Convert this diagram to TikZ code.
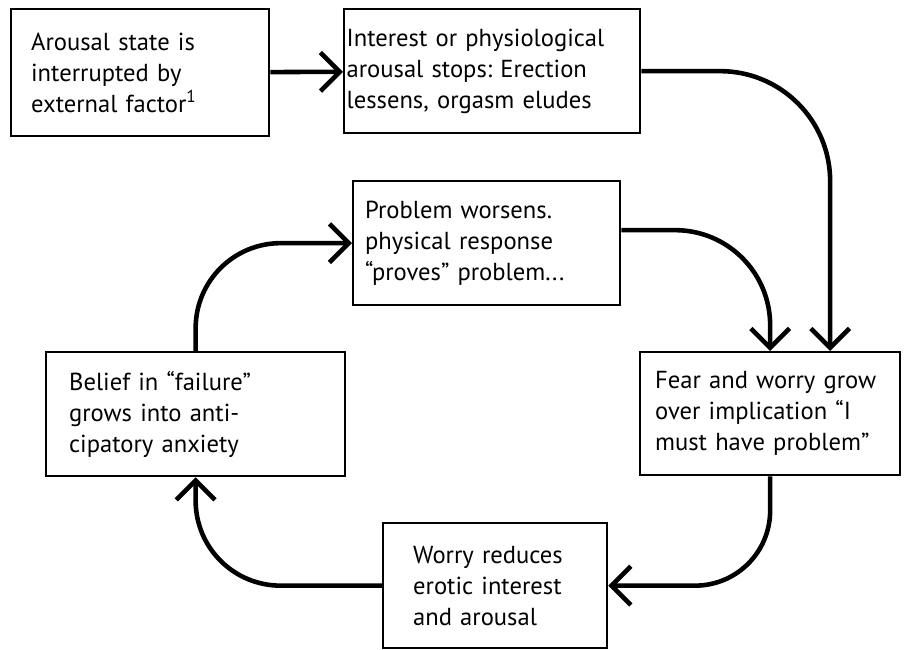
\documentclass[tikz,border=0pt]{standalone}
\usepackage{fontspec}
\setmainfont{PT Sans}
\frenchspacing
\usetikzlibrary{arrows.meta}

\tikzset{
  stage/.style={draw, line width=1.3pt, anchor=north west, inner sep=0pt,
    align=left, font=\fontsize{14}{17.6}\selectfont},
  lpad/.style={execute at begin node={\leftskip=#1\relax}},
  flow/.style={-{Straight Barb[length=11pt,width=22pt]}, line width=2.6pt}
}

\begin{document}
\begin{tikzpicture}
  \useasboundingbox (0,0) rectangle (18.12,-12.98);

  % the boxes
  \node[stage, lpad=0.4cm, text width=5.16cm, minimum height=2.54cm] (arousal) at (0.2,-0.16)
    {Arousal state is\\ interrupted by\\ external factor\textsuperscript{1}};
  \node[stage, lpad=0.05cm, text width=5.92cm, minimum height=2.48cm] (interest) at (6.86,-0.16)
    {Interest or physiological\\ arousal stops: Erection\\ lessens, orgasm eludes};
  \node[stage, lpad=0.24cm, text width=5.34cm, minimum height=2.48cm] (worsens) at (7.04,-3.6)
    {Problem worsens.\\ physical response\\ ``proves'' problem...};
  \node[stage, lpad=0.46cm, text width=5.98cm, minimum height=2.48cm] (belief) at (0.9,-7.02)
    {Belief in ``failure''\\ grows into anti-\\ cipatory anxiety};
  \node[stage, lpad=0.3cm, text width=5.2cm, minimum height=2.46cm] (fear) at (12.78,-7.02)
    {Fear and worry grow\\ over implication ``I\\ must have problem''};
  \node[stage, lpad=0.6cm, text width=4.48cm, minimum height=2.5cm] (reduces) at (7.64,-10.44)
    {Worry reduces\\ erotic interest\\ and arousal};

  % the arrows
  \draw[flow] (arousal) -- (interest);
  \draw[flow, rounded corners=2.2cm] (interest.east) -| ([xshift=1.2cm]fear.north);
  \draw[flow, rounded corners=1.9cm] ([yshift=0.26cm]worsens.east) -| (fear.north);
  \draw[flow, rounded corners=1.5cm] (fear.south) |- (reduces.east);
  \draw[flow, rounded corners=1.7cm] (reduces.west) -| (belief.south);
  \draw[flow, rounded corners=1.7cm] (belief.north) |- (worsens.west);
\end{tikzpicture}
\end{document}
